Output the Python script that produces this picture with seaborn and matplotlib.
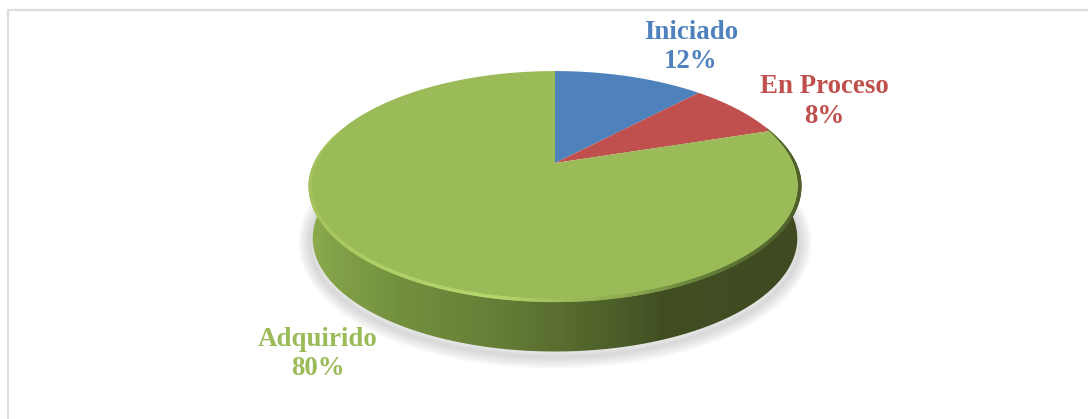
import numpy as np
import matplotlib
matplotlib.use("Agg")
import matplotlib.pyplot as plt
import seaborn as sns
from matplotlib.path import Path
from matplotlib.patches import PathPatch
from matplotlib.collections import LineCollection
from matplotlib.colors import LinearSegmentedColormap

categories = ["Iniciado", "En Proceso", "Adquirido"]
values = [12, 8, 80]
percent_labels = ["12%", "8%", "80%"]
colors = ["#4F81BD", "#C0504D", "#9BBB59"]

W, H = 1088, 419
CX, CY = 555, 163     # apex of the slices
A, B, K = 240, 110, 0.1965  # perspective of the disc
DEPTH = 53


def project(v, dy=0.0, scale=1.0):
    v = np.asarray(v, float)
    w = 1 + K * v[:, 1]
    return np.column_stack([CX + scale * A * v[:, 0] / w,
                            CY + dy - scale * B * v[:, 1] / w])


def outline(th, dy=0.0, scale=1.0):
    return project(np.column_stack([np.cos(th), np.sin(th)]), dy, scale)


sns.set_theme(style="white")
fig = plt.figure(figsize=(W / 100, H / 100), dpi=100, facecolor="white")
ax = fig.add_axes([0, 0, 1, 1])

wedges, _ = ax.pie(values, colors=sns.color_palette(colors), startangle=90,
                   counterclock=False, frame=True)
for w in list(wedges):
    pts = np.vstack([c(np.linspace(0, 1, 60)) for c, _ in w.get_path().iter_bezier()])
    ax.add_patch(PathPatch(Path(project(pts)), facecolor=w.get_facecolor(), edgecolor="none",
                           lw=0, zorder=5, clip_on=False))
    w.remove()
ax.set_aspect("auto")
ax.set_axis_off()

# frame of the chart area
ax.plot([7.5, 7.5, W], [H, 10.5, 10.5], color="#DDDDDD", lw=1.6, zorder=1, clip_on=False)

th_low = np.linspace(np.pi * 0.97, np.pi * 2.03, 300)
lower = outline(th_low, DEPTH, 0.99)
upper = outline(th_low)

# soft shadow below the disc
shadow = outline(np.linspace(0, 2 * np.pi, 300), DEPTH + 4, 1.0)
for lw in np.linspace(17, 1, 9):
    ax.plot(shadow[:, 0], shadow[:, 1], color="#808080", alpha=0.035, lw=lw, zorder=2,
            solid_capstyle="round")

# side wall
side_cmap = LinearSegmentedColormap.from_list("side", [
    (0.00, "#8CAC4E"), (0.05, "#83A148"), (0.18, "#73903E"), (0.38, "#667E37"),
    (0.50, "#5A6F30"), (0.62, "#4C5F29"), (0.72, "#414E22"), (1.00, "#3F4A20")])
grad = np.linspace(0, 1, 512).reshape(1, -1)
im = ax.imshow(grad, cmap=side_cmap, extent=[310, 800, 360, 170], aspect="auto", zorder=3)
wall = PathPatch(Path(np.vstack([lower, upper[::-1]]), closed=False), transform=ax.transData)
im.set_clip_path(wall)

# rim between top face and wall: light on the left, dark on the right, tapering at both ends
th_rim = np.linspace(np.pi * 0.90, np.pi * 2.11, 500)
rim = outline(th_rim, 0.5)
segs = np.stack([rim[:-1], rim[1:]], axis=1)
rim_cmap = LinearSegmentedColormap.from_list("rim", [
    (0.00, "#A3C25E"), (0.12, "#AECE66"), (0.38, "#B4D66B"), (0.50, "#A2C05C"),
    (0.66, "#8BA84E"), (0.80, "#66803A"), (1.00, "#4E5F2A")])
rim_col = rim_cmap((segs[:, 0, 0] - 310) / 490)
u = np.linspace(0, 1, len(segs))
rim_lw = 0.5 + 2.0 * np.minimum(1, np.minimum(u, 1 - u) / 0.12)
ax.add_collection(LineCollection(segs, colors=rim_col, linewidths=rim_lw, zorder=6,
                                 capstyle="round"))

ax.set_xlim(0, W)
ax.set_ylim(H, 0)

# labels
label_pos = [(691, 47), (824, 101.5), (318, 354)]
for name, pct, col, (x, y) in zip(categories, percent_labels, colors, label_pos):
    ax.text(x, y, f"{name}\n{pct}", color=col, ha="center", va="center",
            family="Liberation Serif", weight="bold", fontsize=19.4, linespacing=1.22, zorder=7)

fig.savefig("out.png", dpi=100)
